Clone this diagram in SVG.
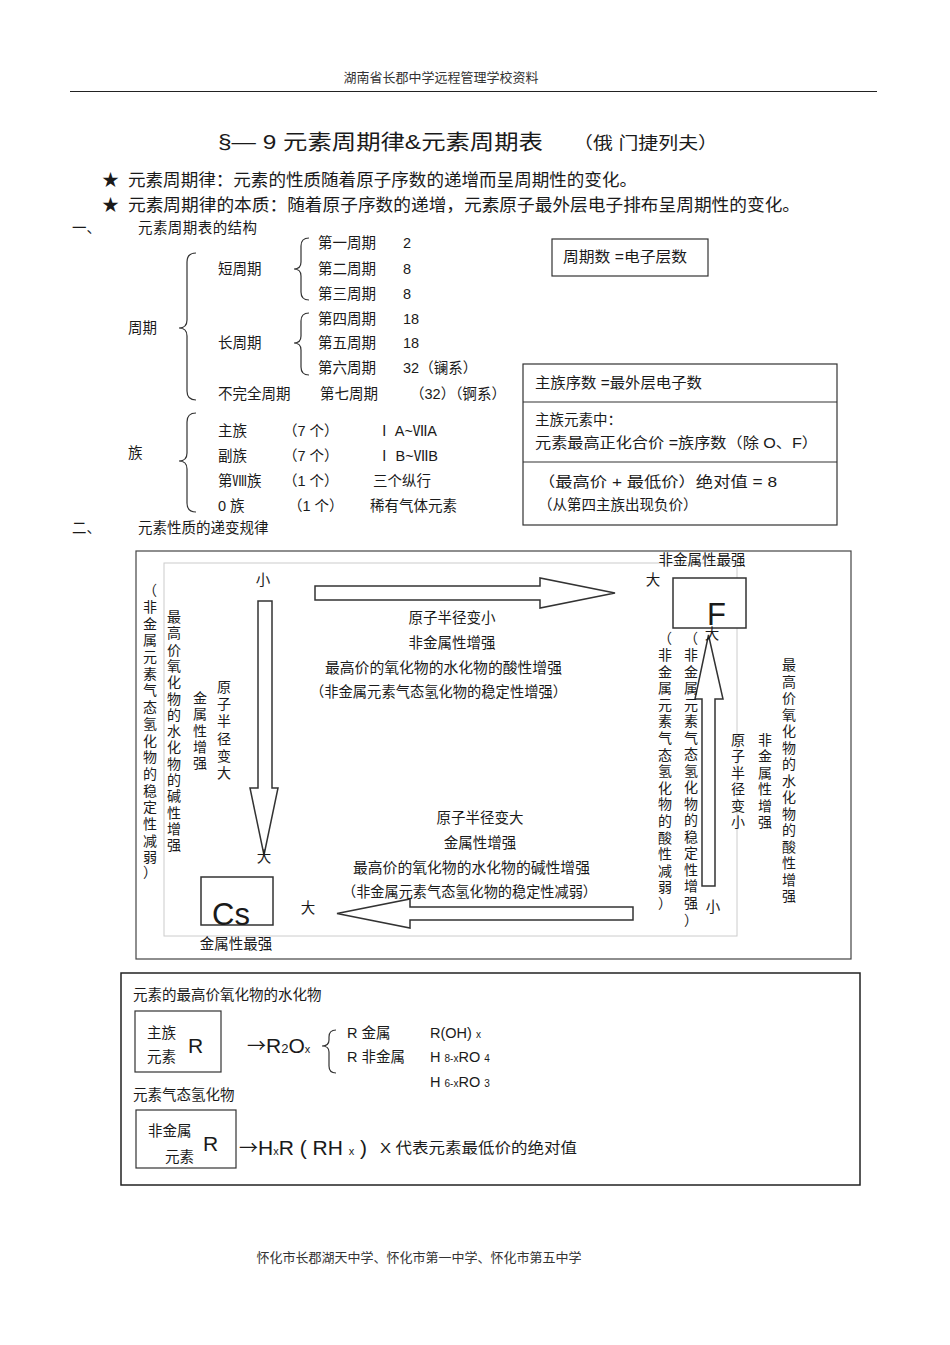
<svg xmlns="http://www.w3.org/2000/svg" width="950" height="1345" viewBox="0 0 950 1345" xml:space="preserve">
<style>
text{font-family:"Liberation Sans","Noto Sans CJK SC",sans-serif;fill:#1a1a1a}
.s13{font-size:13px;fill:#333}
.s14{font-size:14.5px}
.s17{font-size:17px}
.big{font-size:21px}
.v{font-size:14px;text-anchor:middle;dominant-baseline:central}
.c{text-anchor:middle}
.sub{font-size:10px}
.arr{font-family:"Noto Sans CJK SC",sans-serif;font-size:19px}
.box{fill:none;stroke:#333;stroke-width:1.2}
.brace{fill:none;stroke:#333;stroke-width:1.2}
.arrow{fill:#fff;stroke:#333;stroke-width:1.5;stroke-linejoin:miter}
</style>
<rect width="950" height="1345" fill="#fff"/>

<g id="header">
<text class="s13 c" x="441" y="82">湖南省长郡中学远程管理学校资料</text>
<line x1="70" y1="91.5" x2="877" y2="91.5" stroke="#222" stroke-width="1"/>
</g>

<g id="title">
<text x="218" y="149" style="font-size:21px" textLength="325" lengthAdjust="spacingAndGlyphs">§— 9 元素周期律&amp;元素周期表</text>
<text x="573" y="149" style="font-size:17px" textLength="145" lengthAdjust="spacingAndGlyphs">（俄 门捷列夫）</text>
<text class="s17" x="102" y="186">★</text>
<text class="s17" x="128" y="186" textLength="509" lengthAdjust="spacingAndGlyphs">元素周期律：元素的性质随着原子序数的递增而呈周期性的变化。</text>
<text class="s17" x="102" y="211">★</text>
<text class="s17" x="128" y="211" textLength="672" lengthAdjust="spacingAndGlyphs">元素周期律的本质：随着原子序数的递增，元素原子最外层电子排布呈周期性的变化。</text>
</g>

<g id="structure">
<text class="s14" x="72" y="233">一、</text>
<text class="s14" x="138" y="233" textLength="119">元素周期表的结构</text>
<text class="s14" x="128" y="333">周期</text>
<text class="s14" x="218" y="274">短周期</text>
<text class="s14" x="218" y="348">长周期</text>
<text class="s14" x="218" y="399">不完全周期</text>
<text class="s14" x="318" y="248">第一周期</text><text class="s14" x="403" y="248">2</text>
<text class="s14" x="318" y="274">第二周期</text><text class="s14" x="403" y="274">8</text>
<text class="s14" x="318" y="299">第三周期</text><text class="s14" x="403" y="299">8</text>
<text class="s14" x="318" y="324">第四周期</text><text class="s14" x="403" y="324">18</text>
<text class="s14" x="318" y="348">第五周期</text><text class="s14" x="403" y="348">18</text>
<text class="s14" x="318" y="373">第六周期</text><text class="s14" x="403" y="373">32（镧系）</text>
<text class="s14" x="320" y="399">第七周期</text><text class="s14" x="410" y="399">（32）（锕系）</text>
<text class="s14" x="128" y="458">族</text>
<text class="s14" x="218" y="436">主族</text><text class="s14" x="283" y="436">（7 个）</text><text class="s14" x="377" y="436">Ⅰ A~ⅦA</text>
<text class="s14" x="218" y="461">副族</text><text class="s14" x="283" y="461">（7 个）</text><text class="s14" x="377" y="461">Ⅰ B~ⅦB</text>
<text class="s14" x="218" y="486">第Ⅷ族</text><text class="s14" x="283" y="486">（1 个）</text><text class="s14" x="373" y="486">三个纵行</text>
<text class="s14" x="218" y="511">0 族</text><text class="s14" x="288" y="511">（1 个）</text><text class="s14" x="370" y="511">稀有气体元素</text>
<path class="brace" d="M196,253 Q187,253 187,262 L187,320 Q187,328 179,328 Q187,328 187,336 L187,391 Q187,400 196,400"/>
<path class="brace" d="M196,413 Q187,413 187,422 L187,453 Q187,461 179,461 Q187,461 187,469 L187,503 Q187,512 196,512"/>
<path class="brace" d="M309,238 Q301,238 301,246 L301,262 Q301,269 294,269 Q301,269 301,276 L301,292 Q301,300 309,300"/>
<path class="brace" d="M309,313 Q301,313 301,321 L301,336 Q301,343 294,343 Q301,343 301,350 L301,367 Q301,375 309,375"/>
<text class="s14" x="72" y="533">二、</text>
<text class="s14" x="138" y="533">元素性质的递变规律</text>
</g>

<g id="box-period">
<rect class="box" x="552" y="239" width="156" height="37"/>
<text class="s14" x="563" y="262" textLength="124" lengthAdjust="spacingAndGlyphs">周期数  =电子层数</text>
</g>

<g id="box-group">
<rect class="box" x="523" y="364" width="314" height="161"/>
<line x1="523" y1="402" x2="837" y2="402" stroke="#333" stroke-width="1.2"/>
<line x1="523" y1="462" x2="837" y2="462" stroke="#333" stroke-width="1.2"/>
<text class="s14" x="535" y="388" textLength="167" lengthAdjust="spacingAndGlyphs">主族序数  =最外层电子数</text>
<text class="s14" x="535" y="425">主族元素中：</text>
<text class="s14" x="535" y="448" textLength="283" lengthAdjust="spacingAndGlyphs">元素最高正化合价    =族序数（除    O、F）</text>
<text class="s14" x="538" y="487" textLength="239" lengthAdjust="spacingAndGlyphs">（最高价    +  最低价）绝对值      = 8</text>
<text class="s14" x="538" y="510">（从第四主族出现负价）</text>
</g>

<g id="trend-frame">
<rect x="136" y="551" width="715" height="408" fill="none" stroke="#444" stroke-width="1.2"/>
<rect x="164" y="563" width="573" height="373" fill="none" stroke="#ccc" stroke-width="1"/>
</g>

<g id="connectors">
<polygon class="arrow" points="315,586 540,586 540,578 615,593 540,608 540,600 315,600"/>
<polygon class="arrow" points="633,907 410,907 410,899 337,913.5 410,928 410,920 633,920"/>
<polygon class="arrow" points="258,601 272,601 272,788 278,788 264,855 250,788 258,788"/>
<polygon class="arrow" points="702,886 715,886 715,699 723,699 708.5,635 695,699 702,699"/>
</g>

<g id="node-F">
<rect x="673" y="578" width="73" height="50" fill="#fff" stroke="#333" stroke-width="1.5"/>
<text x="707" y="625" style="font-size:31px">F</text>
<text class="s14 c" x="702" y="565">非金属性最强</text>
</g>

<g id="node-Cs">
<rect x="201" y="877" width="72" height="48" fill="#fff" stroke="#333" stroke-width="1.5"/>
<text x="212" y="925" style="font-size:31px">Cs</text>
<text class="s14 c" x="236" y="949">金属性最强</text>
</g>

<g id="trend-labels">
<text class="s14 c" x="263" y="585">小</text>
<text class="s14 c" x="264" y="862">大</text>
<text class="s14 c" x="653" y="585">大</text>
<text class="s14 c" x="712" y="639">大</text>
<text class="s14 c" x="713" y="912">小</text>
<text class="s14 c" x="308" y="913">大</text>

<text class="s14 c" x="452" y="623">原子半径变小</text>
<text class="s14 c" x="452" y="648">非金属性增强</text>
<text class="s14" x="325" y="673" textLength="237" lengthAdjust="spacingAndGlyphs">最高价的氧化物的水化物的酸性增强</text>
<text class="s14" x="310" y="697" textLength="257" lengthAdjust="spacingAndGlyphs">（非金属元素气态氢化物的稳定性增强）</text>
<text class="s14 c" x="480" y="823">原子半径变大</text>
<text class="s14 c" x="480" y="848">金属性增强</text>
<text class="s14" x="353" y="873" textLength="237" lengthAdjust="spacingAndGlyphs">最高价的氧化物的水化物的碱性增强</text>
<text class="s14" x="342" y="897" textLength="255" lengthAdjust="spacingAndGlyphs">（非金属元素气态氢化物的稳定性减弱）</text>

<text class="v" x="150 150 150 150 150 150 150 150 150 150 150 150 150 150 150 150 150 150" y="590 607 624 640 657 674 690 707 724 741 757 774 791 807 824 841 857 872">（非金属元素气态氢化物的稳定性减弱）</text>
<text class="v" x="174 174 174 174 174 174 174 174 174 174 174 174 174 174 174" y="617 633 650 666 682 699 715 731 747 764 780 796 813 829 845">最高价氧化物的水化物的碱性增强</text>
<text class="v" x="200 200 200 200 200" y="698 714 731 747 763">金属性增强</text>
<text class="v" x="224 224 224 224 224 224" y="687 704 721 739 756 773">原子半径变大</text>

<text class="v" x="665 665 665 665 665 665 665 665 665 665 665 665 665 665 665 665 665" y="638 655 672 688 705 721 738 755 771 788 804 821 838 854 871 887 903">（非金属元素气态氢化物的酸性减弱）</text>
<text class="v" x="691 691 691 691 691 691 691 691 691 691 691 691 691 691 691 691 691 691" y="638 655 672 688 705 721 738 754 771 787 804 820 837 853 870 886 903 920">（非金属元素气态氢化物的稳定性增强）</text>
<text class="v" x="738 738 738 738 738 738" y="740 756 773 789 806 822">原子半径变小</text>
<text class="v" x="765 765 765 765 765 765" y="740 756 773 789 806 822">非金属性增强</text>
<text class="v" x="789 789 789 789 789 789 789 789 789 789 789 789 789 789 789" y="665 682 698 715 731 748 764 781 797 814 830 847 863 880 896">最高价氧化物的水化物的酸性增强</text>
</g>

<g id="formula-box">
<rect x="121" y="973" width="739" height="212" fill="none" stroke="#222" stroke-width="1.5"/>
<text class="s14" x="133" y="1000">元素的最高价氧化物的水化物</text>
</g>

<g id="node-main-R">
<rect class="box" x="135" y="1011" width="86" height="61"/>
<text class="s14" x="147" y="1038">主族</text>
<text class="s14" x="147" y="1062">元素</text>
<text class="big" x="188" y="1053">R</text>
</g>

<g id="oxide-formula">
<text class="big" x="247" y="1053"><tspan class="arr">→</tspan>R<tspan style="font-size:13px">2</tspan>O<tspan style="font-size:11px">x</tspan></text>
<path class="brace" d="M336,1030 Q329,1030 329,1037 L329,1040 Q329,1046 322,1046 Q329,1046 329,1052 L329,1066 Q329,1073 336,1073"/>
<text class="s14" x="347" y="1038">R  金属</text>
<text class="s14" x="347" y="1062">R  非金属</text>
<text class="s14" x="430" y="1038">R(OH) <tspan class="sub">x</tspan></text>
<text class="s14" x="430" y="1062">H <tspan class="sub">8-x</tspan>RO <tspan class="sub">4</tspan></text>
<text class="s14" x="430" y="1087">H <tspan class="sub">6-x</tspan>RO <tspan class="sub">3</tspan></text>
</g>

<g id="hydride-title">
<text class="s14" x="133" y="1100">元素气态氢化物</text>
</g>

<g id="node-nonmetal-R">
<rect class="box" x="136" y="1110" width="100" height="58"/>
<text class="s14" x="148" y="1136">非金属</text>
<text class="s14" x="165" y="1162">元素</text>
<text class="big" x="203" y="1151">R</text>
</g>

<g id="hydride-formula">
<text class="big" x="239" y="1155"><tspan class="arr">→</tspan>H<tspan style="font-size:11px">x</tspan>R ( RH <tspan style="font-size:11px">x</tspan> )</text>
<text class="s14" x="380" y="1153" textLength="197" lengthAdjust="spacingAndGlyphs">X 代表元素最低价的绝对值</text>
</g>

<g id="footer">
<text class="s13 c" x="419" y="1262">怀化市长郡湖天中学、怀化市第一中学、怀化市第五中学</text>
</g>
</svg>
